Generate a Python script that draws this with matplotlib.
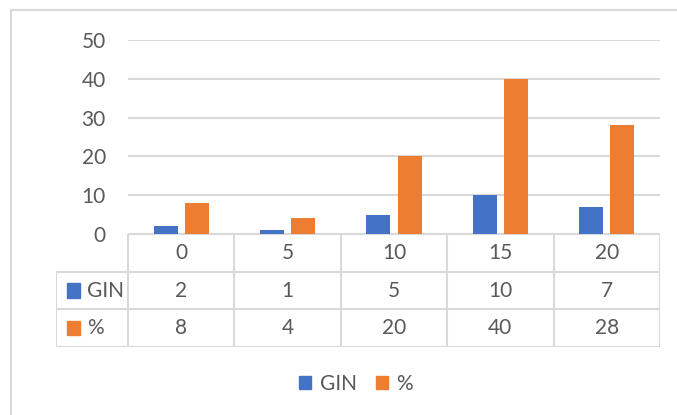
import matplotlib.pyplot as plt
from matplotlib.lines import Line2D
from matplotlib.patches import Rectangle

# chart data
categories = ["0", "5", "10", "15", "20"]
gin = [2, 1, 5, 10, 7]
pct = [8, 4, 20, 40, 28]
series_names = ["GIN", "%"]
yticks = [0, 10, 20, 30, 40, 50]

blue = "#4472C4"
orange = "#ED7D31"
grey = "#d9d9d9"
txt = "#595959"
fs = 15

plt.rcParams["font.family"] = ["Lato", "DejaVu Sans"]

W, H = 677, 415
fig = plt.figure(figsize=(W / 100, H / 100), dpi=100)

def fx(px):
    return px / W

def fy(py):
    return 1 - py / H

# outer chart frame (only top and left visible)
fig.add_artist(Line2D([fx(11), 1], [fy(10), fy(10)], color=grey, lw=1.5))
fig.add_artist(Line2D([fx(11), fx(11)], [fy(10), 0], color=grey, lw=1.5))

# plot area
ax = fig.add_axes([fx(128), fy(234), fx(660) - fx(128), fy(40) - fy(234)])
n = len(categories)
centers = [i + 0.5 for i in range(n)]
bw = 0.225
off = 0.146
ax.bar([c - off for c in centers], gin, width=bw, color=blue, zorder=3)
ax.bar([c + off for c in centers], pct, width=bw, color=orange, zorder=3)
ax.set_xlim(0, n)
ax.set_ylim(0, 50)
ax.set_yticks(yticks)
ax.set_xticks([])
ax.yaxis.grid(True, color=grey, lw=1.5, zorder=0)
for s in ax.spines.values():
    s.set_visible(False)
ax.tick_params(axis="y", length=0, pad=16, labelsize=fs, labelcolor=txt)

# data table below the plot area
left_w = 72 / 106.4
tab = fig.add_axes([fx(56), fy(347), fx(660) - fx(56), fy(234) - fy(347)])
tab.set_xlim(-left_w, n)
tab.set_ylim(3, 0)
tab.axis("off")
lk = dict(color=grey, lw=1.5, solid_capstyle="projecting")
tab.plot([0, n], [0, 0], **lk)
for r in (1, 2, 3):
    tab.plot([-left_w, n], [r, r], **lk)
for i in range(n + 1):
    tab.plot([i, i], [0, 3], **lk)
tab.plot([-left_w, -left_w], [1, 3], **lk)

for i, c in enumerate(categories):
    tab.text(i + 0.5, 0.5, c, ha="center", va="center", fontsize=fs, color=txt)
    tab.text(i + 0.5, 1.5, str(gin[i]), ha="center", va="center", fontsize=fs, color=txt)
    tab.text(i + 0.5, 2.5, str(pct[i]), ha="center", va="center", fontsize=fs, color=txt)

for r, (name, col) in enumerate(zip(series_names, [blue, orange])):
    tab.add_patch(Rectangle((-left_w + 0.1, r + 1.5 - 0.19), 0.13, 0.38, color=col,
                            transform=tab.transData, clip_on=False))
    tab.text(-left_w + 0.29, r + 1.5, name, ha="left", va="center", fontsize=fs, color=txt)

# legend at the bottom
handles = [Rectangle((0, 0), 1, 1, color=blue), Rectangle((0, 0), 1, 1, color=orange)]
fig.legend(handles, series_names, loc="center", bbox_to_anchor=(fx(356), fy(384)),
           ncol=2, frameon=False, fontsize=fs, labelcolor=txt, handlelength=0.6,
           handleheight=0.6, handletextpad=0.4, columnspacing=0.9)

fig.savefig("out.png", dpi=100)
